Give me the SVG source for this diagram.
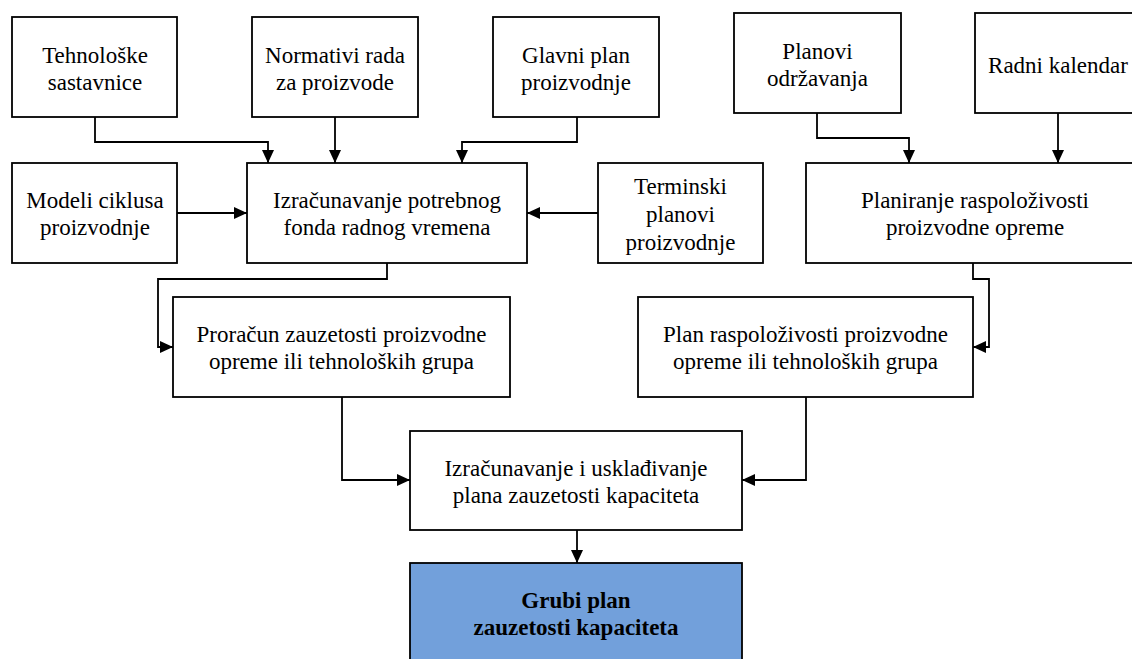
<svg xmlns="http://www.w3.org/2000/svg" width="1132" height="659" viewBox="0 0 1132 659">
<style>
rect{fill:#fff;stroke:#000;stroke-width:1.8}
rect.hl{fill:#72a0db}
text{font-size:23px;fill:#000;text-anchor:middle}
text.b{font-weight:bold}
#connectors path{fill:none;stroke:#000;stroke-width:1.8;marker-end:url(#ah)}
</style>
<defs>
<marker id="ah" markerUnits="userSpaceOnUse" markerWidth="13" markerHeight="12" refX="13" refY="6" orient="auto">
<path d="M0,0 L13,6 L0,12 z" fill="#000"/>
</marker>
</defs>
<rect width="1132" height="659" style="fill:#fff;stroke:none"/>
<g id="connectors">
<path d="M95,117 V142 H268 V163"/>
<path d="M335,117 V163"/>
<path d="M577,117 V142 H462 V163"/>
<path d="M177,213 H247"/>
<path d="M598,213 H527"/>
<path d="M817,113 V138 H909 V163"/>
<path d="M1058,113 V163"/>
<path d="M387,263 V279 H158 V347 H173"/>
<path d="M973,263 V279 H989 V347 H973"/>
<path d="M342,397 V480 H410"/>
<path d="M806,397 V480 H742"/>
<path d="M577,530 V563"/>
</g>
<g font-family="'Liberation Serif', 'DejaVu Serif', serif">
<g id="n-tehnoloske"><rect x="12" y="17" width="165" height="100"/><text x="95" y="63">Tehnološke</text><text x="95" y="90">sastavnice</text></g>
<g id="n-normativi"><rect x="252" y="17" width="166" height="100"/><text x="335" y="63">Normativi rada</text><text x="335" y="90">za proizvode</text></g>
<g id="n-glavni"><rect x="493" y="17" width="166" height="100"/><text x="576" y="63">Glavni plan</text><text x="576" y="90">proizvodnje</text></g>
<g id="n-planovi"><rect x="734" y="13" width="167" height="100"/><text x="817.5" y="59">Planovi</text><text x="817.5" y="86">održavanja</text></g>
<g id="n-radni"><rect x="975" y="13" width="166" height="100"/><text x="1058" y="73">Radni kalendar</text></g>
<g id="n-modeli"><rect x="12" y="163" width="165" height="100"/><text x="95" y="208">Modeli ciklusa</text><text x="95" y="235">proizvodnje</text></g>
<g id="n-izracunavanje"><rect x="247" y="163" width="280" height="100"/><text x="387" y="208">Izračunavanje potrebnog</text><text x="387" y="235">fonda radnog vremena</text></g>
<g id="n-terminski"><rect x="598" y="163" width="165" height="100"/><text x="680.5" y="194">Terminski</text><text x="680.5" y="222">planovi</text><text x="680.5" y="250">proizvodnje</text></g>
<g id="n-planiranje"><rect x="806" y="163" width="338" height="100"/><text x="975" y="208">Planiranje raspoloživosti</text><text x="975" y="235">proizvodne opreme</text></g>
<g id="n-proracun"><rect x="173" y="297" width="337" height="100"/><text x="341.5" y="342">Proračun zauzetosti proizvodne</text><text x="341.5" y="369">opreme ili tehnoloških grupa</text></g>
<g id="n-plan"><rect x="638" y="297" width="335" height="100"/><text x="805.5" y="342">Plan raspoloživosti proizvodne</text><text x="805.5" y="369">opreme ili tehnoloških grupa</text></g>
<g id="n-uskladivanje"><rect x="410" y="431" width="332" height="99"/><text x="576" y="476">Izračunavanje i usklađivanje</text><text x="576" y="503">plana zauzetosti kapaciteta</text></g>
<g id="n-grubi"><rect class="hl" x="410" y="563" width="332" height="100"/><text class="b" x="576" y="608">Grubi plan</text><text class="b" x="576" y="635">zauzetosti kapaciteta</text></g>
</g>
</svg>
